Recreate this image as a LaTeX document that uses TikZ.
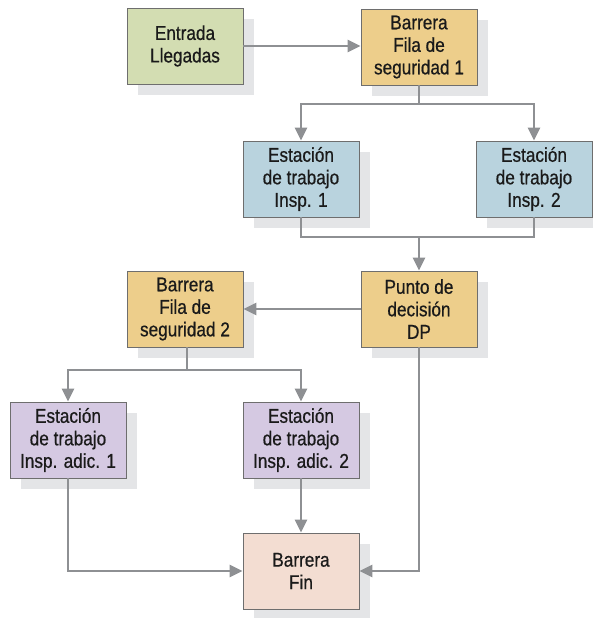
\documentclass[tikz,border=0pt]{standalone}
\usepackage{fontspec}
\setmainfont{Liberation Sans}[FakeStretch=0.86,FakeBold=0.6]
\usetikzlibrary{arrows.meta,shadows}
\definecolor{shadowgray}{HTML}{E4E5E7}
\definecolor{linegray}{HTML}{8E9093}
\definecolor{bordergray}{HTML}{6E6E6E}
\definecolor{cgreen}{HTML}{D3DDB2}
\definecolor{corange}{HTML}{EDCE8B}
\definecolor{cblue}{HTML}{B9D3DE}
\definecolor{cpurple}{HTML}{D5C9E2}
\definecolor{cpink}{HTML}{F3DDD2}
\definecolor{textgray}{HTML}{1A1A1A}
\tikzset{
  box/.style={draw=bordergray, line width=0.9pt, minimum width=116pt, minimum height=76pt,
    inner sep=0pt, align=center, text=textgray,
    font=\fontsize{20}{22.5}\selectfont,
    general shadow={shadow xshift=11pt, shadow yshift=-11pt, fill=shadowgray, draw=none}},
  conn/.style={draw=linegray, line width=2.8pt},
  arr/.style={conn, -{Triangle[length=13pt,width=12pt]}}
}
\begin{document}
\begin{tikzpicture}[x=1pt,y=-1pt]
\useasboundingbox (0,0) rectangle (593,618);
\node[box, fill=cgreen] (ent) at (185,46) {Entrada\\Llegadas};
\node[box, fill=corange] (b1) at (419,47) {Barrera\\Fila de\\seguridad 1};
\node[box, fill=cblue] (i1) at (301,179) {Estación\\de trabajo\\Insp. 1};
\node[box, fill=cblue] (i2) at (534,179) {Estación\\de trabajo\\Insp. 2};
\node[box, fill=corange] (dp) at (419,309) {Punto de\\decisión\\DP};
\node[box, fill=corange] (b2) at (185,309) {Barrera\\Fila de\\seguridad 2};
\node[box, fill=cpurple] (a1) at (68,440) {Estación\\de trabajo\\Insp. adic. 1};
\node[box, fill=cpurple] (a2) at (301,440) {Estación\\de trabajo\\Insp. adic. 2};
\node[box, fill=cpink] (fin) at (301,571) {Barrera\\Fin};

\coordinate (s1) at (419,104);
\coordinate (j1) at (419,237);
\coordinate (s2) at (187,370);

\draw[arr] (ent.east) -- (b1.west |- ent.east);
\draw[conn] (b1.south) -- (s1);
\draw[arr] (s1) -| (i1.north);
\draw[arr] (s1) -| (i2.north);
\draw[conn] (i1.south) |- (j1);
\draw[conn] (i2.south) |- (j1);
\draw[arr] (j1) -- (dp.north);
\draw[arr] (dp.west) -- (b2.east);
\draw[conn] (b2.south -| s2) -- (s2);
\draw[arr] (s2) -| (a1.north);
\draw[arr] (s2) -| (a2.north);
\draw[arr] (a1.south) |- (fin.west);
\draw[arr] (a2.south) -- (fin.north);
\draw[arr] (dp.south) |- (fin.east);
\end{tikzpicture}
\end{document}
